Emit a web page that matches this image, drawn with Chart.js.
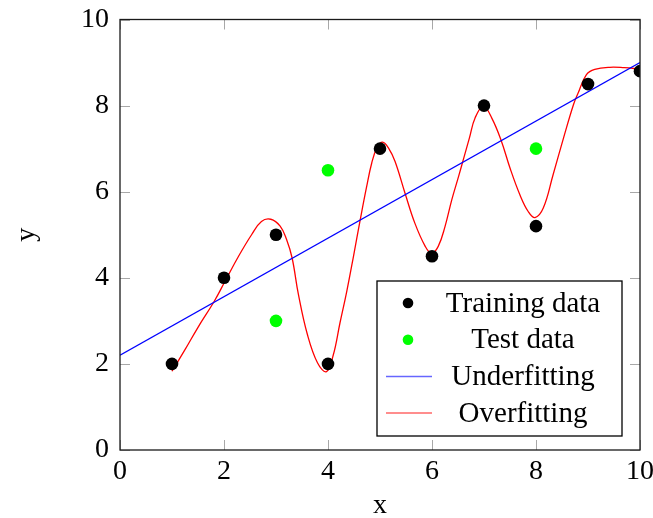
<!DOCTYPE html>
<html>
<head>
<meta charset="utf-8">
<script src="https://cdn.jsdelivr.net/npm/chart.js@4.4.0/dist/chart.umd.min.js"></script>
<style>
  html, body { margin: 0; padding: 0; background: #fff; }
</style>
</head>
<body>
<canvas id="fitChart" width="653" height="518"></canvas>
<script>
// data
const trainX = [1, 2, 3, 4, 5, 6, 7, 8, 9, 10];
const trainY = [2, 4, 5, 2, 7, 4.5, 8, 5.2, 8.5, 8.8];
const testX = [3, 4, 8];
const testY = [3, 6.5, 7];
const underX = [0, 10];
const underY = [2.2, 9.0];
const overX = [1.0, 1.25, 1.5, 1.81, 2.02, 2.28, 2.53, 2.72, 2.9, 3.08, 3.2, 3.31, 3.43, 3.6,
  3.8, 3.97, 4.1, 4.23, 4.36, 4.49, 4.62, 4.74, 4.84, 4.94, 5.05, 5.17, 5.29, 5.48, 5.67,
  5.87, 5.99, 6.12, 6.25, 6.38, 6.51, 6.62, 6.72, 6.83, 6.99, 7.15, 7.33, 7.5, 7.69, 7.85,
  7.98, 8.14, 8.33, 8.53, 8.72, 8.81, 8.97, 9.13, 9.42, 9.7, 10.0];
const overY = [1.83, 2.33, 2.85, 3.45, 3.92, 4.5, 5.0, 5.31, 5.36, 5.2, 4.9, 4.46, 3.62, 2.7,
  2.02, 1.82, 2.2, 2.95, 3.68, 4.5, 5.35, 6.1, 6.66, 7.02, 7.15, 7.0, 6.7, 5.97, 5.27,
  4.73, 4.57, 4.73, 5.19, 5.81, 6.35, 6.82, 7.25, 7.72, 7.98, 7.71, 7.19, 6.55, 5.93, 5.54,
  5.40, 5.62, 6.40, 7.25, 8.02, 8.29, 8.72, 8.84, 8.89, 8.88, 8.85];
const tickValues = [0, 2, 4, 6, 8, 10];

const FONT = "'Liberation Serif', 'DejaVu Serif', serif";
const FSIZE = 28;

const pts = (xs, ys) => xs.map((x, i) => ({ x: x, y: ys[i] }));

// inward ticks on all four sides + black frame
const framePlugin = {
  id: "frame",
  afterDatasetsDraw(chart) {
    const { ctx, chartArea: a, scales } = chart;
    ctx.save();
    ctx.strokeStyle = "#a8a8a8";
    ctx.lineWidth = 1;
    const len = 10;
    tickValues.forEach(v => {
      const px = Math.round(scales.x.getPixelForValue(v)) + 0.5;
      const py = Math.round(scales.y.getPixelForValue(v)) + 0.5;
      ctx.beginPath();
      ctx.moveTo(px, a.bottom); ctx.lineTo(px, a.bottom - len);
      ctx.moveTo(px, a.top); ctx.lineTo(px, a.top + len);
      ctx.moveTo(a.left, py); ctx.lineTo(a.left + len, py);
      ctx.moveTo(a.right, py); ctx.lineTo(a.right - len, py);
      ctx.stroke();
    });
    ctx.strokeStyle = "#1a1a1a";
    ctx.lineWidth = 1.3;
    ctx.strokeRect(a.left, a.top, a.right - a.left, a.bottom - a.top);
    ctx.restore();
  }
};

// legend box in the lower right corner of the plot
const boxLegend = {
  id: "boxLegend",
  afterDraw(chart) {
    const { ctx, chartArea: a } = chart;
    const right = a.right - 18, bottom = a.bottom - 14;
    const left = right - 245, top = bottom - 155;
    ctx.save();
    ctx.fillStyle = "#fff";
    ctx.fillRect(left, top, right - left, bottom - top);
    ctx.strokeStyle = "#000";
    ctx.lineWidth = 1.3;
    ctx.strokeRect(left, top, right - left, bottom - top);
    ctx.font = (FSIZE + 1) + "px " + FONT;
    ctx.textAlign = "center";
    ctx.textBaseline = "middle";
    chart.data.datasets.forEach((ds, i) => {
      const cy = top + 22 + i * 36.7;
      if (ds.showLine) {
        ctx.strokeStyle = ds.borderColor;
        ctx.globalAlpha = 0.6;
        ctx.lineWidth = 1.5;
        ctx.beginPath();
        ctx.moveTo(left + 9, cy);
        ctx.lineTo(left + 55, cy);
        ctx.stroke();
        ctx.globalAlpha = 1;
      } else {
        ctx.fillStyle = ds.backgroundColor;
        ctx.beginPath();
        ctx.arc(left + 31, cy, 5.3, 0, Math.PI * 2);
        ctx.fill();
      }
      ctx.fillStyle = "#000";
      ctx.fillText(ds.label, left + 146, cy + 1);
    });
    ctx.restore();
  }
};

new Chart(document.getElementById("fitChart"), {
  type: "scatter",
  data: {
    datasets: [
      {
        label: "Training data",
        data: pts(trainX, trainY),
        backgroundColor: "#000",
        borderColor: "#000",
        pointRadius: 6.3,
        pointBorderWidth: 0,
        showLine: false,
        order: 0
      },
      {
        label: "Test data",
        data: pts(testX, testY),
        backgroundColor: "#00ff00",
        borderColor: "#00ff00",
        pointRadius: 6.3,
        pointBorderWidth: 0,
        showLine: false,
        order: 1
      },
      {
        label: "Underfitting",
        data: pts(underX, underY),
        borderColor: "#0000ff",
        borderWidth: 1.3,
        pointRadius: 0,
        showLine: true,
        order: 2
      },
      {
        label: "Overfitting",
        data: pts(overX, overY),
        borderColor: "#ff0000",
        borderWidth: 1.3,
        pointRadius: 0,
        showLine: true,
        tension: 0.4,
        order: 3
      }
    ]
  },
  options: {
    responsive: false,
    animation: false,
    events: [],
    layout: { padding: { top: 19.5, right: 13, left: 0, bottom: 0 } },
    plugins: {
      legend: { display: false },
      tooltip: { enabled: false }
    },
    scales: {
      x: {
        type: "linear",
        min: 0,
        max: 10,
        afterFit: s => { s.height = 68; s.paddingLeft = 0; s.paddingRight = 0; },
        afterBuildTicks: s => { s.ticks = tickValues.map(v => ({ value: v })); },
        ticks: { color: "#000", font: { family: FONT, size: FSIZE }, padding: 5, maxRotation: 0 },
        grid: { display: false, drawTicks: false },
        border: { display: false },
        title: { display: true, text: "x", color: "#000", font: { family: FONT, size: FSIZE }, padding: { top: 0, bottom: -4 } }
      },
      y: {
        type: "linear",
        min: 0,
        max: 10,
        afterFit: s => { s.width = 120; s.paddingTop = 0; s.paddingBottom = 0; },
        afterBuildTicks: s => { s.ticks = tickValues.map(v => ({ value: v })); },
        ticks: { color: "#000", font: { family: FONT, size: FSIZE }, padding: 11 },
        grid: { display: false, drawTicks: false },
        border: { display: false },
        title: { display: true, text: "y", color: "#000", font: { family: FONT, size: FSIZE }, padding: { top: 10, bottom: 0 } }
      }
    }
  },
  plugins: [framePlugin, boxLegend]
});
</script>
</body>
</html>
